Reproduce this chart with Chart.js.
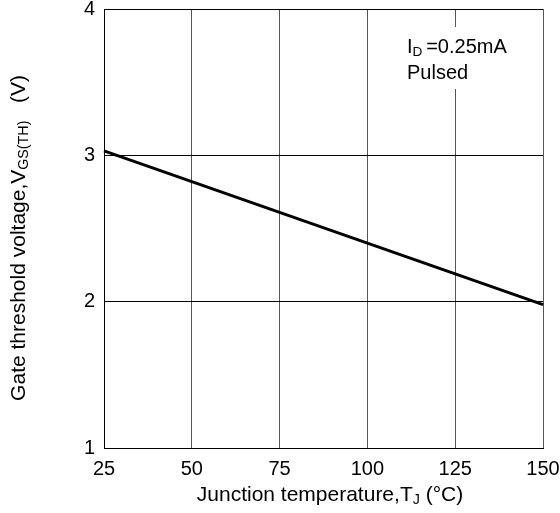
<!DOCTYPE html>
<html>
<head>
<meta charset="utf-8">
<script src="https://cdn.jsdelivr.net/npm/chart.js@4.4.1/dist/chart.umd.min.js"></script>
<style>
  html, body { margin: 0; padding: 0; background: #fff; }
  #wrap { width: 560px; height: 513px; }
</style>
</head>
<body>
<div id="wrap"><canvas id="chart" width="560" height="513"></canvas></div>
<script>
// values
const temps = [25, 50, 75, 100, 125, 150];
const vth = [3.03, 2.82, 2.61, 2.40, 2.19, 1.98];
const xTicks = [25, 50, 75, 100, 125, 150];
const yTicks = [1, 2, 3, 4];

const FONT = '"Liberation Sans", Arial, sans-serif';

// draws text pieces with subscripts, left to right, starting at x
function drawRich(ctx, parts, x, y, size) {
    let cx = x;
    for (const p of parts) {
        const s = p.sub ? size * 0.68 : size;
        ctx.font = s + 'px ' + FONT;
        ctx.fillText(p.t, cx, p.sub ? y + size * 0.15 : y);
        cx += ctx.measureText(p.t).width;
    }
    return cx - x;
}
function richWidth(ctx, parts, size) {
    let w = 0;
    for (const p of parts) {
        ctx.font = (p.sub ? size * 0.68 : size) + 'px ' + FONT;
        w += ctx.measureText(p.t).width;
    }
    return w;
}

const labelsPlugin = {
    id: 'labels',
    afterDraw(chart) {
        const ctx = chart.ctx;
        ctx.save();
        ctx.fillStyle = '#000';
        ctx.textBaseline = 'alphabetic';

        // x title
        const xt = [{t: 'Junction temperature,T'}, {t: 'J', sub: true}, {t: ' (°C)'}];
        const xw = richWidth(ctx, xt, 21);
        drawRich(ctx, xt, 330 - xw / 2, 501, 21);

        // y title
        const yt = [{t: 'Gate threshold voltage,V'}, {t: 'GS(TH)', sub: true}, {t: '   (V)'}];
        const yw = richWidth(ctx, yt, 21);
        ctx.save();
        ctx.translate(25, 238);
        ctx.rotate(-Math.PI / 2);
        drawRich(ctx, yt, -yw / 2, 0, 21);
        ctx.restore();

        // condition note
        ctx.fillStyle = '#fff';
        ctx.fillRect(404, 27, 70, 62);
        ctx.fillStyle = '#000';
        drawRich(ctx, [{t: 'I'}, {t: 'D ', sub: true}, {t: '=0.25mA'}], 407, 53, 20);
        drawRich(ctx, [{t: 'Pulsed'}], 407, 79, 20);
        ctx.restore();
    }
};

new Chart(document.getElementById('chart').getContext('2d'), {
    type: 'line',
    data: {
        datasets: [{
            data: temps.map((t, i) => ({x: t, y: vth[i]})),
            borderColor: '#000',
            borderWidth: 3,
            pointRadius: 0,
            tension: 0,
            clip: false
        }]
    },
    options: {
        responsive: false,
        animation: false,
        layout: { padding: { top: 9, right: 17, left: 0, bottom: 0 } },
        plugins: { legend: { display: false }, tooltip: { enabled: false } },
        scales: {
            x: {
                type: 'linear',
                min: 25, max: 150,
                afterBuildTicks: s => { s.ticks = xTicks.map(v => ({value: v})); },
                afterFit: s => { s.height = 65; s.paddingLeft = 0; s.paddingRight = 0; },
                ticks: { color: '#000', font: { family: FONT, size: 20 }, padding: 9, maxRotation: 0 },
                grid: { color: '#555', lineWidth: 1, drawTicks: false },
                border: { color: '#000', width: 1 }
            },
            y: {
                type: 'linear',
                min: 1, max: 4,
                afterBuildTicks: s => { s.ticks = yTicks.map(v => ({value: v})); },
                afterFit: s => { s.width = 104; s.paddingTop = 0; s.paddingBottom = 0; },
                ticks: { color: '#000', font: { family: FONT, size: 20 }, padding: 9 },
                grid: { color: '#000', lineWidth: 1, drawTicks: false },
                border: { color: '#000', width: 1 }
            }
        }
    },
    plugins: [labelsPlugin]
});
</script>
</body>
</html>
